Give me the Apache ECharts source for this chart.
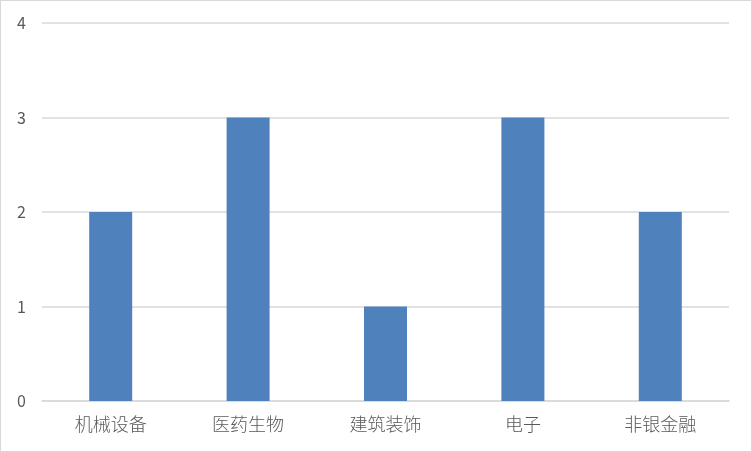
<!DOCTYPE html>
<html><head><meta charset="utf-8">
<script src="https://cdn.jsdelivr.net/npm/echarts@6/dist/echarts.min.js"></script>
<style>html,body{margin:0;padding:0;background:#fff}#c{width:750px;height:450px;border:1px solid #d9d9d9}</style>
</head><body><div id="c"></div>
<script>
const categories = ['机械设备','医药生物','建筑装饰','电子','非银金融'];
const values = [2,3,1,3,2];
const chart = echarts.init(document.getElementById('c'));
chart.setOption({
  animation:false,
  grid:{left:41,right:22,top:22,bottom:50},
  xAxis:{type:'category',data:categories,
    axisLine:{lineStyle:{color:'#d9d9d9',width:1.5}},axisTick:{show:false},
    axisLabel:{color:'#595959',fontSize:18,margin:14,fontWeight:300,fontFamily:'Noto Sans CJK SC'}},
  yAxis:{type:'value',min:0,max:4,interval:1,
    axisLine:{show:false},axisTick:{show:false},
    splitLine:{lineStyle:{color:'#d9d9d9',width:1.5}},
    axisLabel:{color:'#595959',fontSize:16,margin:16,fontFamily:'Noto Sans CJK SC'}},
  series:[{type:'bar',data:values,barWidth:43,itemStyle:{color:'#4f81bd'}}]
});
</script></body></html>
